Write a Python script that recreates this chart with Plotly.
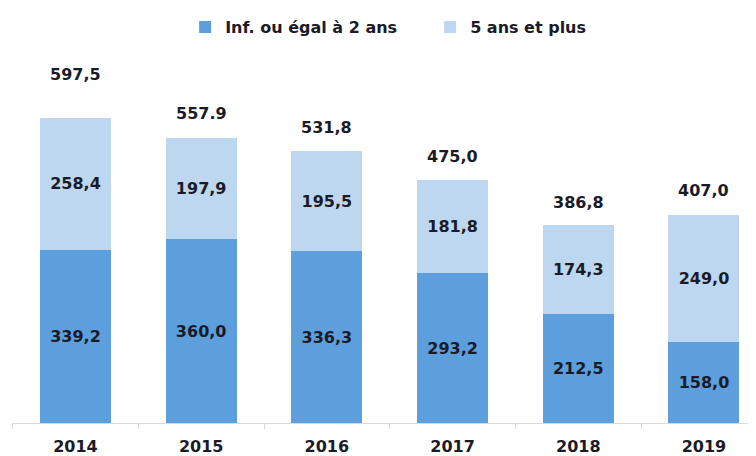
import plotly.graph_objects as go

years = ["2014", "2015", "2016", "2017", "2018", "2019"]
inf2 = [339.2, 360.0, 336.3, 293.2, 212.5, 158.0]
plus5 = [258.4, 197.9, 195.5, 181.8, 174.3, 249.0]
totals = [597.5, 557.9, 531.8, 475.0, 386.8, 407.0]
total_labels = ["597,5", "557.9", "531,8", "475,0", "386,8", "407,0"]
total_shift = [43, 25, 24, 24, 23, 25]

FONT = "DejaVu Sans"
TXT = "#1b1b28"
fig = go.Figure()
for vals, name, col in [(inf2, "Inf. ou égal à 2 ans", "#5c9fdc"),
                        (plus5, "5 ans et plus", "#bdd7f1")]:
    fig.add_trace(go.Bar(
        x=years, y=vals, name=name,
        marker=dict(color=col, line=dict(width=0)),
        texttemplate="%{y:.1f}", textposition="inside", insidetextanchor="middle",
        textfont=dict(family=FONT, size=16, color=TXT, weight="bold"),
        constraintext="none",
    ))
for i, (t, lab, s) in enumerate(zip(totals, total_labels, total_shift)):
    fig.add_annotation(x=i, y=t, text=lab, showarrow=False, yanchor="middle",
                       yshift=s, font=dict(family=FONT, size=16, color=TXT, weight="bold"))

fig.update_layout(
    width=748, height=448, barmode="stack", bargap=0.435,
    separators=", ",
    margin=dict(l=4, r=0, t=32, b=33),
    paper_bgcolor="white", plot_bgcolor="white",
    showlegend=True,
    legend=dict(orientation="h", x=0.562, xanchor="center", y=1.034, yanchor="middle",
                font=dict(family=FONT, size=16, color=TXT, weight="bold"),
                itemwidth=30, traceorder="normal", itemclick=False,
                entrywidth=200),
    xaxis=dict(type="category", range=[-0.505, 5.414], showline=True,
               linecolor="#d9d9d9", linewidth=1,
               ticks="outside", tickson="boundaries", ticklen=5, tickcolor="#d9d9d9",
               ticklabelstandoff=9,
               tickfont=dict(family=FONT, size=16, color=TXT, weight="bold"),
               showgrid=False, fixedrange=True),
    yaxis=dict(range=[0, 750], visible=False, showgrid=False, fixedrange=True),
)
fig.write_html("out.html")
